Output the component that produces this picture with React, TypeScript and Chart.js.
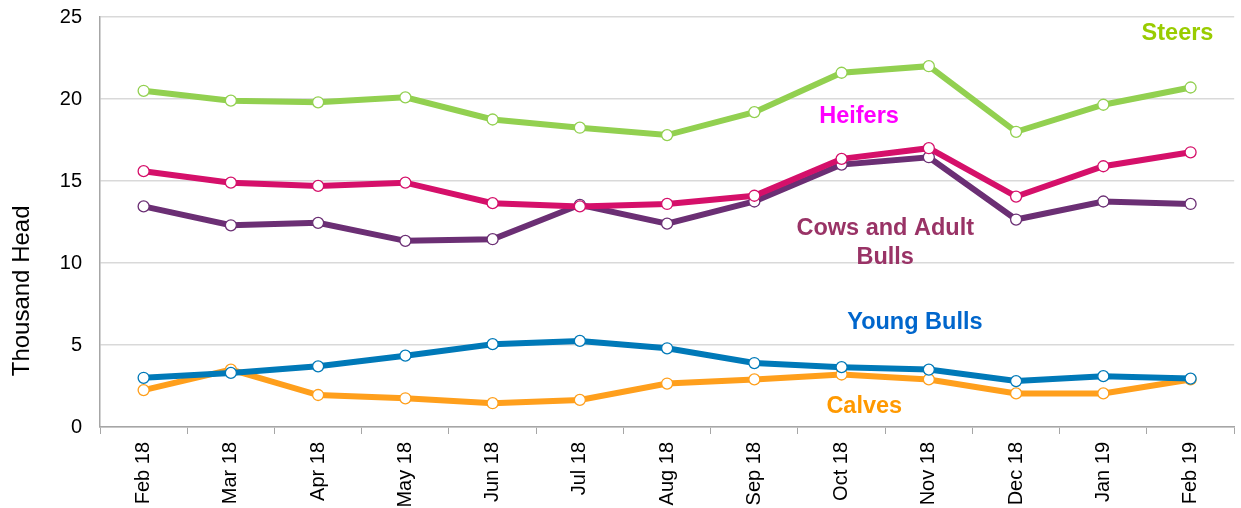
import React, { useEffect, useRef } from "react";
import { Chart, registerables } from "chart.js";

Chart.register(...registerables);

const categories = ["Feb 18", "Mar 18", "Apr 18", "May 18", "Jun 18", "Jul 18", "Aug 18", "Sep 18", "Oct 18", "Nov 18", "Dec 18", "Jan 19", "Feb 19"];

const steers = [20.5, 19.9, 19.8, 20.1, 18.75, 18.25, 17.8, 19.2, 21.6, 22.0, 18.0, 19.65, 20.7];
const heifers = [15.6, 14.9, 14.7, 14.9, 13.65, 13.45, 13.6, 14.1, 16.35, 17.0, 14.05, 15.9, 16.75];
const cows = [13.45, 12.3, 12.45, 11.35, 11.45, 13.55, 12.4, 13.75, 16.0, 16.45, 12.65, 13.75, 13.6];
const youngBulls = [3.0, 3.3, 3.7, 4.35, 5.05, 5.25, 4.8, 3.9, 3.65, 3.5, 2.8, 3.1, 2.95];
const calves = [2.25, 3.5, 1.95, 1.75, 1.45, 1.65, 2.65, 2.9, 3.2, 2.9, 2.05, 2.05, 2.9];

const yTicks = [0, 5, 10, 15, 20, 25];
const yTitle = "Thousand Head";

const seriesNames = ["Steers", "Heifers", "Cows and Adult Bulls", "Young Bulls", "Calves"];
const lineColors = ["#92d050", "#d5106a", "#6b2f74", "#0079b8", "#ff9f1c"];
const textColors = ["#99cc00", "#ff00ff", "#993366", "#0066cc", "#ff9900"];
const labelLines = [["Steers"], ["Heifers"], ["Cows and Adult", "Bulls"], ["Young Bulls"], ["Calves"]];
const labelIdx = [11.85, 8.2, 8.5, 8.84, 8.26];
const labelVal = [24.0, 18.95, 12.1, 6.35, 1.25];

const FONT = "'Liberation Sans', Arial, sans-serif";

const labelPlugin = {
  id: "seriesLabels",
  afterDatasetsDraw(chart: any) {
    const { ctx, scales } = chart;
    ctx.save();
    ctx.font = `bold 23.5px ${FONT}`;
    ctx.textAlign = "center";
    ctx.textBaseline = "middle";
    labelLines.forEach((lines, i) => {
      const x = scales.x.getPixelForValue(labelIdx[i]);
      const y0 = scales.y.getPixelForValue(labelVal[i]);
      ctx.fillStyle = textColors[i];
      lines.forEach((t, j) => ctx.fillText(t, x, y0 + j * 29));
    });
    // y-axis title, centred a little below the middle of the axis as in the original
    ctx.font = `24px ${FONT}`;
    ctx.fillStyle = "#000";
    ctx.translate(22, scales.y.getPixelForValue(8.3));
    ctx.rotate(-Math.PI / 2);
    ctx.fillText(yTitle, 0, 0);
    ctx.restore();
  },
};

export default function App() {
  const ref = useRef<HTMLCanvasElement>(null);
  useEffect(() => {
    const data = [steers, heifers, cows, youngBulls, calves];
    const chart = new Chart(ref.current!, {
      type: "line",
      data: {
        labels: categories,
        datasets: data.map((d, i) => ({
          label: seriesNames[i],
          data: d,
          borderColor: lineColors[i],
          backgroundColor: lineColors[i],
          borderWidth: 6,
          pointRadius: 5.5,
          pointBorderWidth: 1.3,
          pointBackgroundColor: "#ffffff",
          pointBorderColor: lineColors[i],
          tension: 0,
        })),
      },
      options: {
        animation: false,
        responsive: true,
        maintainAspectRatio: false,
        layout: { padding: { top: 0, right: 3, left: 0, bottom: 0 } },
        plugins: { legend: { display: false }, tooltip: { enabled: false } },
        scales: {
          x: {
            offset: true,
            grid: { display: true, drawOnChartArea: false, drawTicks: true, tickLength: 7, color: "#a6a6a6", offset: true },
            border: { color: "#a6a6a6", width: 1.5 },
            ticks: { color: "#000", font: { family: FONT, size: 20 }, maxRotation: 90, minRotation: 90, padding: 8 },
            afterFit: (s: any) => { s.height = 81; s.paddingTop = 0; s.paddingBottom = 0; },
          },
          y: {
            min: 0,
            max: 25,
            afterBuildTicks: (s: any) => { s.ticks = yTicks.map((v) => ({ value: v })); },
            grid: { color: "#d9d9d9", lineWidth: 1.5, drawTicks: false },
            border: { color: "#a6a6a6", width: 1.5 },
            ticks: { color: "#000", font: { family: FONT, size: 20 }, padding: 18 },
            title: { display: false },
            afterFit: (s: any) => { s.width = 100; s.paddingTop = 17; s.paddingBottom = 0; },
          },
        },
      },
      plugins: [labelPlugin],
    });
    return () => chart.destroy();
  }, []);
  return (
    <div style={{ position: "fixed", left: 0, top: 0, width: 1241, height: 508 }}>
      <canvas ref={ref} />
    </div>
  );
}
